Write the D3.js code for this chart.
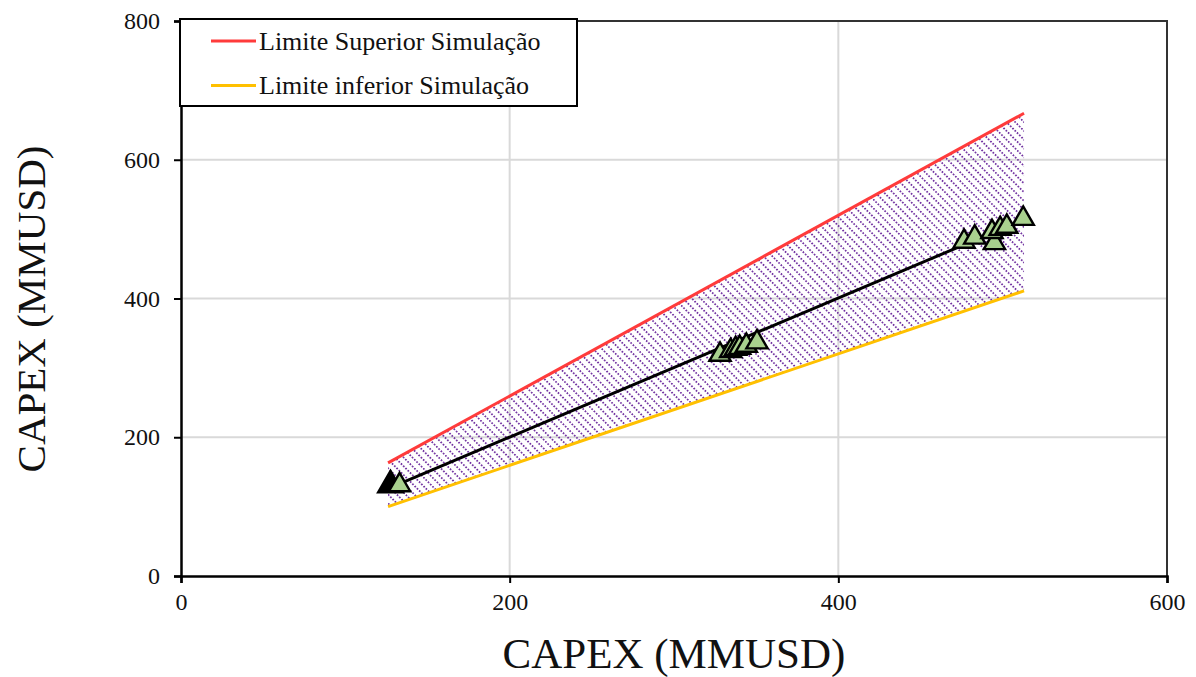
<!DOCTYPE html>
<html>
<head>
<meta charset="utf-8">
<script src="https://cdn.jsdelivr.net/npm/d3@7"></script>
<style>
  body { margin: 0; background: #fff; }
  svg { display: block; }
  svg text { font-family: "Liberation Serif", "Times New Roman", serif !important; fill: #111; }
</style>
</head>
<body>
<svg id="chart" width="1196" height="677"></svg>
<script>
// ---- data ----
const xTicks = [0, 200, 400, 600];
const yTicks = [0, 200, 400, 600, 800];
const upperLimit = [[126, 163], [513, 667]];   // Limite Superior Simulação
const lowerLimit = [[126, 100], [513, 411]];   // Limite inferior Simulação
const blackLine = [[130, 130], [476, 477]];
const blackPoints = [[127.5, 131]];
const greenPoints = [
  [133, 131],
  [328, 319], [334.5, 324.5], [337.5, 327.5], [340, 329], [344, 332], [350.5, 337],
  [476.5, 482], [483, 488], [495, 480], [493.5, 496], [498.5, 500.5], [502.5, 503.5], [512.5, 515]
];
const legendItems = [
  { label: "Limite Superior Simulação", color: "#ff3b3b" },
  { label: "Limite inferior Simulação", color: "#ffc000" }
];
const xTitle = "CAPEX (MMUSD)";
const yTitle = "CAPEX (MMUSD)";

// ---- layout ----
const svg = d3.select("#chart");
const W = 1196, H = 677;
const m = { left: 181, top: 21, right: 29, bottom: 101 };
const x = d3.scaleLinear().domain([0, 600]).range([m.left, W - m.right]);
const y = d3.scaleLinear().domain([0, 800]).range([H - m.bottom, m.top]);
const SERIF = '"Liberation Serif", "Times New Roman", serif';

// hatch pattern
const defs = svg.append("defs");
const pat = defs.append("pattern")
  .attr("id", "hatch").attr("patternUnits", "userSpaceOnUse")
  .attr("width", 3.2).attr("height", 6.2)
  .attr("patternTransform", "rotate(45)");
pat.append("rect").attr("x", 0).attr("y", 0).attr("width", 1.7).attr("height", 1.7)
  .attr("fill", "#7030a0");

// gridlines
svg.append("g").selectAll("line").data(yTicks.filter(d => d > 0 && d < 800)).join("line")
  .attr("x1", x(0)).attr("x2", x(600)).attr("y1", d => y(d)).attr("y2", d => y(d))
  .attr("stroke", "#d9d9d9").attr("stroke-width", 2);
svg.append("g").selectAll("line").data(xTicks.filter(d => d > 0 && d < 600)).join("line")
  .attr("y1", y(0)).attr("y2", y(800)).attr("x1", d => x(d)).attr("x2", d => x(d))
  .attr("stroke", "#d9d9d9").attr("stroke-width", 2);

// plot border top/right
svg.append("path")
  .attr("d", `M${x(0)},${y(800)}H${x(600)}V${y(0)}`)
  .attr("fill", "none").attr("stroke", "#333").attr("stroke-width", 2);

// band area
const bandPts = upperLimit.concat(lowerLimit.slice().reverse());
svg.append("path")
  .attr("d", "M" + bandPts.map(p => `${x(p[0])},${y(p[1])}`).join("L") + "Z")
  .attr("fill", "url(#hatch)");

const line = d3.line().x(d => x(d[0])).y(d => y(d[1]));
svg.append("path").datum(upperLimit).attr("d", line)
  .attr("fill", "none").attr("stroke", legendItems[0].color).attr("stroke-width", 3);
svg.append("path").datum(lowerLimit).attr("d", line)
  .attr("fill", "none").attr("stroke", legendItems[1].color).attr("stroke-width", 3);

// black line & marker
svg.append("path").datum(blackLine).attr("d", line)
  .attr("fill", "none").attr("stroke", "#000").attr("stroke-width", 3);

const tri = d3.symbol().type(d3.symbolTriangle);
svg.append("g").selectAll("path").data(blackPoints).join("path")
  .attr("d", tri.size(280))
  .attr("transform", d => `translate(${x(d[0])},${y(d[1])})`)
  .attr("fill", "#000").attr("stroke", "#000").attr("stroke-width", 2);

svg.append("g").selectAll("path").data(greenPoints).join("path")
  .attr("d", tri.size(195))
  .attr("transform", d => `translate(${x(d[0])},${y(d[1])})`)
  .attr("fill", "#a9d18e").attr("stroke", "#000").attr("stroke-width", 2.4)
  .attr("stroke-linejoin", "miter");

// axes
const xAxis = svg.append("g").attr("transform", `translate(0,${y(0)})`)
  .call(d3.axisBottom(x).tickValues(xTicks).tickSize(7).tickPadding(10).tickFormat(d3.format("d")));
const yAxis = svg.append("g").attr("transform", `translate(${x(0)},0)`)
  .call(d3.axisLeft(y).tickValues(yTicks).tickSize(7).tickPadding(14).tickFormat(d3.format("d")));
[xAxis, yAxis].forEach(g => {
  g.attr("font-family", SERIF);
  g.select(".domain").attr("stroke", "#000").attr("stroke-width", 2.5);
  g.selectAll(".tick line").attr("stroke", "#000").attr("stroke-width", 2);
  g.selectAll(".tick text").style("font-family", SERIF)
    .attr("font-size", 24).attr("fill", "#222");
});

// axis titles
svg.append("text").attr("x", 674).attr("y", 668).attr("text-anchor", "middle")
  .style("font-family", SERIF).attr("font-size", 43).text(xTitle);
svg.append("text").attr("transform", `translate(45,309) rotate(-90)`).attr("text-anchor", "middle")
  .style("font-family", SERIF).attr("font-size", 41).text(yTitle);

// legend
const lg = svg.append("g");
lg.append("rect").attr("x", 180).attr("y", 19).attr("width", 397).attr("height", 87)
  .attr("fill", "#fff").attr("stroke", "#000").attr("stroke-width", 2);
legendItems.forEach((it, i) => {
  const cy = 41 + i * 44.5;
  lg.append("line").attr("x1", 211).attr("x2", 256).attr("y1", cy).attr("y2", cy)
    .attr("stroke", it.color).attr("stroke-width", 3);
  lg.append("text").attr("x", 259).attr("y", cy + 8.5)
    .style("font-family", SERIF).attr("font-size", 26).text(it.label);
});
</script>
</body>
</html>
